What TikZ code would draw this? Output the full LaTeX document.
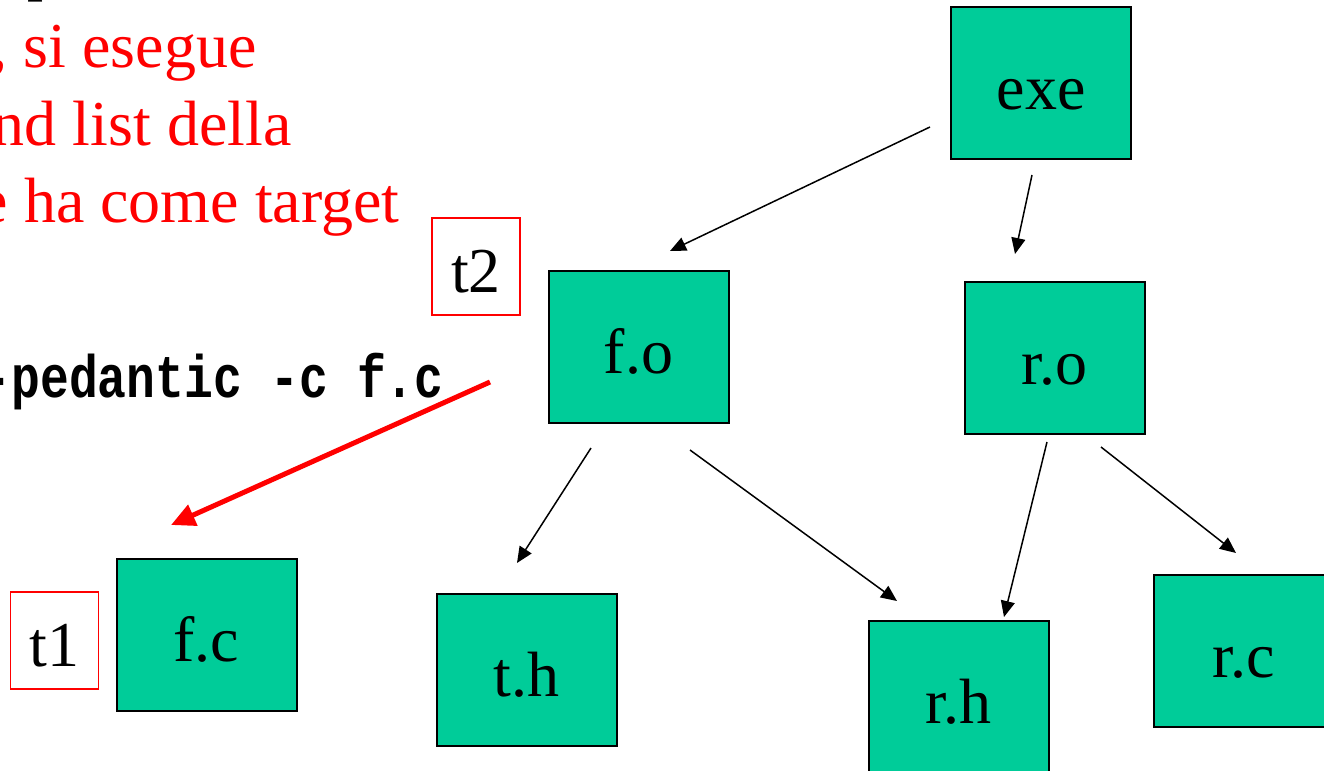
\documentclass[tikz,border=0pt]{standalone}
\usepackage{fontspec}
\setmainfont{Liberation Serif}
\newfontfamily\codefont[FakeStretch=0.8]{Liberation Mono}
\usetikzlibrary{arrows.meta}
\definecolor{filegreen}{RGB}{0,204,153}
\newcommand{\bigfont}{\fontsize{32}{32}\selectfont}

\begin{document}
\begin{tikzpicture}[x=0.5pt,y=-0.5pt,
  file/.style={draw=black,line width=1pt,fill=filegreen,minimum width=90pt,minimum height=76pt,
    inner sep=0pt,font=\bigfont,text height=26pt,text depth=0pt},
  tag/.style={draw=red,line width=0.75pt,minimum width=44pt,minimum height=48.5pt,
    inner sep=0pt,font=\bigfont,text height=25.5pt,text depth=0pt},
  dep/.style={line width=0.75pt,-{Triangle[length=8pt,width=7pt]}},
  note/.style={red,inner sep=0pt,anchor=base east,font=\bigfont}]
\useasboundingbox (0,0) rectangle (1324,771);

% text on the left, cut by the page edge
\node[inner sep=0pt,anchor=base west,font=\bigfont] (top) at (27,-11) {p};
\node[note] (l1) at (257,68) {, si esegue};
\node[note] (l2) at (292,145) {nd list della};
\node[note] (l3) at (400,222) {e ha come target};
\node[inner sep=0pt,anchor=base east,font=\codefont\bfseries\fontsize{30}{30}\selectfont] (cmd) at (444,397) {-pedantic -c f.c};

% files
\node[file] (exe) at (1041,83) {exe};
\node[file] (fo) at (638.5,347) {f.o};
\node[file] (ro) at (1054.5,358) {r.o};
\node[file] (fc) at (206.5,635) {f.c};
\node[file] (th) at (526.5,670) {t.h};
\node[file] (rh) at (958.5,697) {r.h};
\node[file] (rc) at (1243.5,651) {r.c};

% times
\node[tag] (t1) at (54.5,640.5) {t1};
\node[tag] (t2) at (476,266.5) {t2};

% arrow ends
\coordinate (exe-a) at (930,127);
\coordinate (exe-b) at (1032,175);
\coordinate (fo-in) at (670,251);
\coordinate (ro-in) at (1015,254);
\coordinate (fo-a) at (591,448);
\coordinate (fo-b) at (690,450);
\coordinate (ro-a) at (1047,442);
\coordinate (ro-b) at (1101,447);
\coordinate (th-in) at (517,563);
\coordinate (rh-in1) at (897,601);
\coordinate (rh-in2) at (1004,617);
\coordinate (rc-in) at (1236,553);
\coordinate (cmd-a) at (490,382);
\coordinate (fc-in) at (171,525);

\draw[dep] (exe-a) -- (fo-in);
\draw[dep] (exe-b) -- (ro-in);
\draw[dep] (fo-a) -- (th-in);
\draw[dep] (fo-b) -- (rh-in1);
\draw[dep] (ro-a) -- (rh-in2);
\draw[dep] (ro-b) -- (rc-in);
\draw[red,line width=2.5pt,-{Triangle[length=12pt,width=11pt]}] (cmd-a) -- (fc-in);

\end{tikzpicture}
\end{document}
